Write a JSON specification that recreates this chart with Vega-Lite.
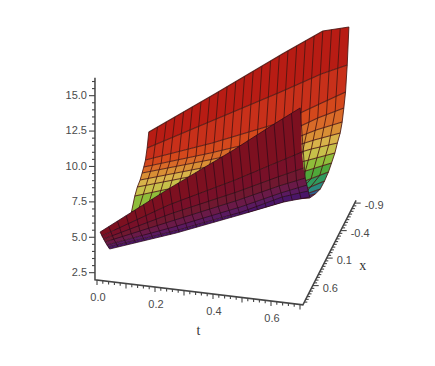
{"$schema":"https://vega.github.io/schema/vega-lite/v6.json","width":435,"height":366,"autosize":{"type":"fit","contains":"padding"},"padding":0,"background":"white","view":{"stroke":null},
"data":{"values":[
{"k":"n","s":"b","r":0,"x":-0.9,"t":0,"z":5.27},{"k":"n","s":"b","r":0,"x":-0.9,"t":0.23,"z":8.56},{"k":"n","s":"b","r":0,"x":-0.9,"t":0.46,"z":11.91},{"k":"n","s":"b","r":0,"x":-0.9,"t":0.6,"z":13.88},{"k":"n","s":"b","r":0,"x":-0.9,"t":0.69,"z":14.39},
{"k":"n","s":"b","r":1,"x":-0.84,"t":0,"z":4.37},{"k":"n","s":"b","r":1,"x":-0.84,"t":0.23,"z":6.92},{"k":"n","s":"b","r":1,"x":-0.84,"t":0.46,"z":9.46},{"k":"n","s":"b","r":1,"x":-0.84,"t":0.6,"z":11.08},{"k":"n","s":"b","r":1,"x":-0.84,"t":0.69,"z":11.94},
{"k":"n","s":"b","r":2,"x":-0.78,"t":0,"z":3.75},{"k":"n","s":"b","r":2,"x":-0.78,"t":0.23,"z":5.52},{"k":"n","s":"b","r":2,"x":-0.78,"t":0.46,"z":7.5},{"k":"n","s":"b","r":2,"x":-0.78,"t":0.6,"z":9.19},{"k":"n","s":"b","r":2,"x":-0.78,"t":0.69,"z":10.26},
{"k":"n","s":"b","r":3,"x":-0.72,"t":0,"z":3.49},{"k":"n","s":"b","r":3,"x":-0.72,"t":0.23,"z":5.05},{"k":"n","s":"b","r":3,"x":-0.72,"t":0.46,"z":6.75},{"k":"n","s":"b","r":3,"x":-0.72,"t":0.6,"z":8.44},{"k":"n","s":"b","r":3,"x":-0.72,"t":0.69,"z":9.37},
{"k":"n","s":"b","r":4,"x":-0.66,"t":0,"z":3.3},{"k":"n","s":"b","r":4,"x":-0.66,"t":0.23,"z":4.79},{"k":"n","s":"b","r":4,"x":-0.66,"t":0.46,"z":6.35},{"k":"n","s":"b","r":4,"x":-0.66,"t":0.6,"z":7.82},{"k":"n","s":"b","r":4,"x":-0.66,"t":0.69,"z":8.61},
{"k":"n","s":"b","r":5,"x":-0.59,"t":0,"z":3.08},{"k":"n","s":"b","r":5,"x":-0.59,"t":0.23,"z":4.57},{"k":"n","s":"b","r":5,"x":-0.59,"t":0.46,"z":6.12},{"k":"n","s":"b","r":5,"x":-0.59,"t":0.6,"z":7.39},{"k":"n","s":"b","r":5,"x":-0.59,"t":0.69,"z":8.11},
{"k":"n","s":"b","r":6,"x":-0.49,"t":0,"z":2.97},{"k":"n","s":"b","r":6,"x":-0.49,"t":0.23,"z":4.46},{"k":"n","s":"b","r":6,"x":-0.49,"t":0.46,"z":5.95},{"k":"n","s":"b","r":6,"x":-0.49,"t":0.6,"z":7.14},{"k":"n","s":"b","r":6,"x":-0.49,"t":0.69,"z":7.79},
{"k":"n","s":"b","r":7,"x":-0.4,"t":0,"z":2.69},{"k":"n","s":"b","r":7,"x":-0.4,"t":0.23,"z":4.25},{"k":"n","s":"b","r":7,"x":-0.4,"t":0.46,"z":5.66},{"k":"n","s":"b","r":7,"x":-0.4,"t":0.6,"z":6.71},{"k":"n","s":"b","r":7,"x":-0.4,"t":0.69,"z":7.43},
{"k":"n","s":"b","r":8,"x":-0.28,"t":0,"z":2.02},{"k":"n","s":"b","r":8,"x":-0.28,"t":0.23,"z":3.79},{"k":"n","s":"b","r":8,"x":-0.28,"t":0.46,"z":5.42},{"k":"n","s":"b","r":8,"x":-0.28,"t":0.6,"z":6.4},{"k":"n","s":"b","r":8,"x":-0.28,"t":0.69,"z":7.19},
{"k":"n","s":"b","r":9,"x":-0.17,"t":0,"z":2.17},{"k":"n","s":"b","r":9,"x":-0.17,"t":0.23,"z":3.51},{"k":"n","s":"b","r":9,"x":-0.17,"t":0.46,"z":5.0},{"k":"n","s":"b","r":9,"x":-0.17,"t":0.6,"z":6.05},{"k":"n","s":"b","r":9,"x":-0.17,"t":0.69,"z":6.98},
{"k":"n","s":"b","r":10,"x":-0.03,"t":0,"z":2.43},{"k":"n","s":"b","r":10,"x":-0.03,"t":0.23,"z":3.56},{"k":"n","s":"b","r":10,"x":-0.03,"t":0.46,"z":4.84},{"k":"n","s":"b","r":10,"x":-0.03,"t":0.6,"z":5.89},{"k":"n","s":"b","r":10,"x":-0.03,"t":0.69,"z":6.89},
{"k":"n","s":"b","r":11,"x":0.12,"t":0,"z":2.73},{"k":"n","s":"b","r":11,"x":0.12,"t":0.23,"z":3.86},{"k":"n","s":"b","r":11,"x":0.12,"t":0.46,"z":5.0},{"k":"n","s":"b","r":11,"x":0.12,"t":0.6,"z":6.05},{"k":"n","s":"b","r":11,"x":0.12,"t":0.69,"z":6.91},
{"k":"n","s":"b","r":12,"x":0.3,"t":0,"z":3.15},{"k":"n","s":"b","r":12,"x":0.3,"t":0.23,"z":4.14},{"k":"n","s":"b","r":12,"x":0.3,"t":0.46,"z":5.41},{"k":"n","s":"b","r":12,"x":0.3,"t":0.6,"z":6.61},{"k":"n","s":"b","r":12,"x":0.3,"t":0.69,"z":7.25},
{"k":"n","s":"b","r":13,"x":0.5,"t":0,"z":3.08},{"k":"n","s":"b","r":13,"x":0.5,"t":0.23,"z":4.35},{"k":"n","s":"b","r":13,"x":0.5,"t":0.46,"z":6.33},{"k":"n","s":"b","r":13,"x":0.5,"t":0.6,"z":7.38},{"k":"n","s":"b","r":13,"x":0.5,"t":0.69,"z":7.75},
{"k":"n","s":"f","r":20,"x":0.84,"t":0,"z":4.96},{"k":"n","s":"f","r":20,"x":0.84,"t":0.23,"z":8.5},{"k":"n","s":"f","r":20,"x":0.84,"t":0.46,"z":11.89},{"k":"n","s":"f","r":20,"x":0.84,"t":0.6,"z":14.07},{"k":"n","s":"f","r":20,"x":0.84,"t":0.69,"z":15.43},
{"k":"n","s":"f","r":21,"x":0.78,"t":0,"z":4.45},{"k":"n","s":"f","r":21,"x":0.78,"t":0.23,"z":7.2},{"k":"n","s":"f","r":21,"x":0.78,"t":0.46,"z":9.54},{"k":"n","s":"f","r":21,"x":0.78,"t":0.6,"z":11.09},{"k":"n","s":"f","r":21,"x":0.78,"t":0.69,"z":12.08},
{"k":"n","s":"f","r":22,"x":0.72,"t":0,"z":4.0},{"k":"n","s":"f","r":22,"x":0.72,"t":0.23,"z":6.34},{"k":"n","s":"f","r":22,"x":0.72,"t":0.46,"z":8.46},{"k":"n","s":"f","r":22,"x":0.72,"t":0.6,"z":9.86},{"k":"n","s":"f","r":22,"x":0.72,"t":0.69,"z":10.72},
{"k":"n","s":"f","r":23,"x":0.66,"t":0,"z":3.56},{"k":"n","s":"f","r":23,"x":0.66,"t":0.23,"z":5.61},{"k":"n","s":"f","r":23,"x":0.66,"t":0.46,"z":7.66},{"k":"n","s":"f","r":23,"x":0.66,"t":0.6,"z":9.0},{"k":"n","s":"f","r":23,"x":0.66,"t":0.69,"z":9.78},
{"k":"n","s":"f","r":24,"x":0.6,"t":0,"z":3.11},{"k":"n","s":"f","r":24,"x":0.6,"t":0.23,"z":4.95},{"k":"n","s":"f","r":24,"x":0.6,"t":0.46,"z":6.93},{"k":"n","s":"f","r":24,"x":0.6,"t":0.6,"z":8.27},{"k":"n","s":"f","r":24,"x":0.6,"t":0.69,"z":9.05},
{"k":"n","s":"f","r":25,"x":0.55,"t":0,"z":2.78},{"k":"n","s":"f","r":25,"x":0.55,"t":0.23,"z":4.48},{"k":"n","s":"f","r":25,"x":0.55,"t":0.46,"z":6.39},{"k":"n","s":"f","r":25,"x":0.55,"t":0.6,"z":7.79},{"k":"n","s":"f","r":25,"x":0.55,"t":0.69,"z":8.44},
{"k":"n","s":"f","r":26,"x":0.5,"t":0,"z":2.44},{"k":"n","s":"f","r":26,"x":0.5,"t":0.23,"z":4.14},{"k":"n","s":"f","r":26,"x":0.5,"t":0.46,"z":6.05},{"k":"n","s":"f","r":26,"x":0.5,"t":0.6,"z":7.24},{"k":"n","s":"f","r":26,"x":0.5,"t":0.69,"z":7.82},

{"k":"c","s":"b","t":0,"x":-0.9,"z":5.27},{"k":"c","s":"b","t":0,"x":-0.84,"z":4.37},{"k":"c","s":"b","t":0,"x":-0.78,"z":3.75},{"k":"c","s":"b","t":0,"x":-0.72,"z":3.49},{"k":"c","s":"b","t":0,"x":-0.66,"z":3.3},{"k":"c","s":"b","t":0,"x":-0.59,"z":3.08},{"k":"c","s":"b","t":0,"x":-0.49,"z":2.97},{"k":"c","s":"b","t":0,"x":-0.4,"z":2.69},{"k":"c","s":"b","t":0,"x":-0.28,"z":2.02},
{"k":"c","s":"b","t":0.03,"x":-0.9,"z":5.7},{"k":"c","s":"b","t":0.03,"x":-0.72,"z":3.69},{"k":"c","s":"b","t":0.03,"x":-0.49,"z":3.16},{"k":"c","s":"b","t":0.03,"x":-0.17,"z":2.34},
{"k":"c","s":"b","t":0.06,"x":-0.9,"z":6.13},{"k":"c","s":"b","t":0.06,"x":-0.72,"z":3.9},{"k":"c","s":"b","t":0.06,"x":-0.49,"z":3.36},{"k":"c","s":"b","t":0.06,"x":-0.17,"z":2.52},
{"k":"c","s":"b","t":0.09,"x":-0.9,"z":6.56},{"k":"c","s":"b","t":0.09,"x":-0.72,"z":4.1},{"k":"c","s":"b","t":0.09,"x":-0.49,"z":3.55},{"k":"c","s":"b","t":0.09,"x":-0.17,"z":2.69},
{"k":"c","s":"b","t":0.12,"x":-0.9,"z":6.99},{"k":"c","s":"b","t":0.12,"x":-0.72,"z":4.3},{"k":"c","s":"b","t":0.12,"x":-0.49,"z":3.75},{"k":"c","s":"b","t":0.12,"x":-0.17,"z":2.87},
{"k":"c","s":"b","t":0.15,"x":-0.9,"z":7.42},{"k":"c","s":"b","t":0.15,"x":-0.72,"z":4.51},{"k":"c","s":"b","t":0.15,"x":-0.49,"z":3.94},{"k":"c","s":"b","t":0.15,"x":-0.17,"z":3.04},
{"k":"c","s":"b","t":0.18,"x":-0.9,"z":7.84},{"k":"c","s":"b","t":0.18,"x":-0.72,"z":4.71},{"k":"c","s":"b","t":0.18,"x":-0.49,"z":4.14},{"k":"c","s":"b","t":0.18,"x":-0.17,"z":3.22},
{"k":"c","s":"b","t":0.21,"x":-0.9,"z":8.27},{"k":"c","s":"b","t":0.21,"x":-0.72,"z":4.91},{"k":"c","s":"b","t":0.21,"x":-0.49,"z":4.33},{"k":"c","s":"b","t":0.21,"x":-0.17,"z":3.39},
{"k":"c","s":"b","t":0.24,"x":-0.9,"z":8.7},{"k":"c","s":"b","t":0.24,"x":-0.72,"z":5.12},{"k":"c","s":"b","t":0.24,"x":-0.49,"z":4.52},{"k":"c","s":"b","t":0.24,"x":-0.17,"z":3.57},
{"k":"c","s":"b","t":0.27,"x":-0.9,"z":9.14},{"k":"c","s":"b","t":0.27,"x":-0.72,"z":5.34},{"k":"c","s":"b","t":0.27,"x":-0.49,"z":4.71},{"k":"c","s":"b","t":0.27,"x":-0.17,"z":3.77},
{"k":"c","s":"b","t":0.3,"x":-0.9,"z":9.57},{"k":"c","s":"b","t":0.3,"x":-0.72,"z":5.57},{"k":"c","s":"b","t":0.3,"x":-0.49,"z":4.91},{"k":"c","s":"b","t":0.3,"x":-0.17,"z":3.96},
{"k":"c","s":"b","t":0.33,"x":-0.9,"z":10.01},{"k":"c","s":"b","t":0.33,"x":-0.72,"z":5.79},{"k":"c","s":"b","t":0.33,"x":-0.49,"z":5.1},{"k":"c","s":"b","t":0.33,"x":-0.17,"z":4.16},
{"k":"c","s":"b","t":0.36,"x":-0.9,"z":10.45},{"k":"c","s":"b","t":0.36,"x":-0.72,"z":6.01},{"k":"c","s":"b","t":0.36,"x":-0.49,"z":5.3},{"k":"c","s":"b","t":0.36,"x":-0.17,"z":4.35},
{"k":"c","s":"b","t":0.39,"x":-0.9,"z":10.88},{"k":"c","s":"b","t":0.39,"x":-0.72,"z":6.23},{"k":"c","s":"b","t":0.39,"x":-0.49,"z":5.49},{"k":"c","s":"b","t":0.39,"x":-0.17,"z":4.55},
{"k":"c","s":"b","t":0.42,"x":-0.9,"z":11.32},{"k":"c","s":"b","t":0.42,"x":-0.72,"z":6.45},{"k":"c","s":"b","t":0.42,"x":-0.49,"z":5.68},{"k":"c","s":"b","t":0.42,"x":-0.17,"z":4.74},
{"k":"c","s":"b","t":0.45,"x":-0.9,"z":11.76},{"k":"c","s":"b","t":0.45,"x":-0.72,"z":6.68},{"k":"c","s":"b","t":0.45,"x":-0.49,"z":5.88},{"k":"c","s":"b","t":0.45,"x":-0.17,"z":4.94},
{"k":"c","s":"b","t":0.48,"x":-0.9,"z":12.19},{"k":"c","s":"b","t":0.48,"x":-0.72,"z":6.99},{"k":"c","s":"b","t":0.48,"x":-0.49,"z":6.12},{"k":"c","s":"b","t":0.48,"x":-0.17,"z":5.15},
{"k":"c","s":"b","t":0.51,"x":-0.9,"z":12.61},{"k":"c","s":"b","t":0.51,"x":-0.72,"z":7.36},{"k":"c","s":"b","t":0.51,"x":-0.49,"z":6.37},{"k":"c","s":"b","t":0.51,"x":-0.17,"z":5.38},
{"k":"c","s":"b","t":0.54,"x":-0.9,"z":13.04},{"k":"c","s":"b","t":0.54,"x":-0.72,"z":7.72},{"k":"c","s":"b","t":0.54,"x":-0.49,"z":6.63},{"k":"c","s":"b","t":0.54,"x":-0.17,"z":5.6},
{"k":"c","s":"b","t":0.57,"x":-0.9,"z":13.46},{"k":"c","s":"b","t":0.57,"x":-0.72,"z":8.08},{"k":"c","s":"b","t":0.57,"x":-0.49,"z":6.88},{"k":"c","s":"b","t":0.57,"x":-0.17,"z":5.83},{"k":"c","s":"b","t":0.57,"x":0.5,"z":7.15},
{"k":"c","s":"b","t":0.6,"x":-0.9,"z":13.88},{"k":"c","s":"b","t":0.6,"x":-0.72,"z":8.44},{"k":"c","s":"b","t":0.6,"x":-0.49,"z":7.14},{"k":"c","s":"b","t":0.6,"x":-0.17,"z":6.05},{"k":"c","s":"b","t":0.6,"x":0.5,"z":7.38},
{"k":"c","s":"b","t":0.63,"x":-0.9,"z":14.05},{"k":"c","s":"b","t":0.63,"x":-0.72,"z":8.75},{"k":"c","s":"b","t":0.63,"x":-0.49,"z":7.36},{"k":"c","s":"b","t":0.63,"x":-0.17,"z":6.36},{"k":"c","s":"b","t":0.63,"x":0.5,"z":7.5},
{"k":"c","s":"b","t":0.66,"x":-0.9,"z":14.22},{"k":"c","s":"b","t":0.66,"x":-0.72,"z":9.06},{"k":"c","s":"b","t":0.66,"x":-0.49,"z":7.57},{"k":"c","s":"b","t":0.66,"x":-0.17,"z":6.67},{"k":"c","s":"b","t":0.66,"x":0.5,"z":7.62},
{"k":"c","s":"b","t":0.69,"x":-0.9,"z":14.39},{"k":"c","s":"b","t":0.69,"x":-0.84,"z":11.94},{"k":"c","s":"b","t":0.69,"x":-0.78,"z":10.26},{"k":"c","s":"b","t":0.69,"x":-0.72,"z":9.37},{"k":"c","s":"b","t":0.69,"x":-0.66,"z":8.61},{"k":"c","s":"b","t":0.69,"x":-0.59,"z":8.11},{"k":"c","s":"b","t":0.69,"x":-0.49,"z":7.79},{"k":"c","s":"b","t":0.69,"x":-0.4,"z":7.43},{"k":"c","s":"b","t":0.69,"x":-0.28,"z":7.19},{"k":"c","s":"b","t":0.69,"x":-0.17,"z":6.98},{"k":"c","s":"b","t":0.69,"x":-0.03,"z":6.89},{"k":"c","s":"b","t":0.69,"x":0.12,"z":6.91},{"k":"c","s":"b","t":0.69,"x":0.3,"z":7.25},{"k":"c","s":"b","t":0.69,"x":0.5,"z":7.75},

{"k":"c","s":"f","t":0,"x":0.84,"z":4.96},{"k":"c","s":"f","t":0,"x":0.66,"z":3.56},{"k":"c","s":"f","t":0,"x":0.5,"z":2.44},
{"k":"c","s":"f","t":0.03,"x":0.84,"z":5.42},{"k":"c","s":"f","t":0.03,"x":0.66,"z":3.83},{"k":"c","s":"f","t":0.03,"x":0.5,"z":2.66},
{"k":"c","s":"f","t":0.06,"x":0.84,"z":5.88},{"k":"c","s":"f","t":0.06,"x":0.66,"z":4.09},{"k":"c","s":"f","t":0.06,"x":0.5,"z":2.88},
{"k":"c","s":"f","t":0.09,"x":0.84,"z":6.35},{"k":"c","s":"f","t":0.09,"x":0.66,"z":4.36},{"k":"c","s":"f","t":0.09,"x":0.5,"z":3.11},
{"k":"c","s":"f","t":0.12,"x":0.84,"z":6.81},{"k":"c","s":"f","t":0.12,"x":0.66,"z":4.63},{"k":"c","s":"f","t":0.12,"x":0.5,"z":3.33},
{"k":"c","s":"f","t":0.15,"x":0.84,"z":7.27},{"k":"c","s":"f","t":0.15,"x":0.66,"z":4.9},{"k":"c","s":"f","t":0.15,"x":0.5,"z":3.55},
{"k":"c","s":"f","t":0.18,"x":0.84,"z":7.73},{"k":"c","s":"f","t":0.18,"x":0.66,"z":5.16},{"k":"c","s":"f","t":0.18,"x":0.5,"z":3.77},
{"k":"c","s":"f","t":0.21,"x":0.84,"z":8.2},{"k":"c","s":"f","t":0.21,"x":0.66,"z":5.43},{"k":"c","s":"f","t":0.21,"x":0.5,"z":3.99},
{"k":"c","s":"f","t":0.24,"x":0.84,"z":8.64},{"k":"c","s":"f","t":0.24,"x":0.66,"z":5.7},{"k":"c","s":"f","t":0.24,"x":0.5,"z":4.22},
{"k":"c","s":"f","t":0.27,"x":0.84,"z":9.09},{"k":"c","s":"f","t":0.27,"x":0.66,"z":5.97},{"k":"c","s":"f","t":0.27,"x":0.5,"z":4.47},
{"k":"c","s":"f","t":0.3,"x":0.84,"z":9.53},{"k":"c","s":"f","t":0.3,"x":0.66,"z":6.23},{"k":"c","s":"f","t":0.3,"x":0.5,"z":4.72},
{"k":"c","s":"f","t":0.33,"x":0.84,"z":9.97},{"k":"c","s":"f","t":0.33,"x":0.66,"z":6.5},{"k":"c","s":"f","t":0.33,"x":0.5,"z":4.97},
{"k":"c","s":"f","t":0.36,"x":0.84,"z":10.42},{"k":"c","s":"f","t":0.36,"x":0.66,"z":6.77},{"k":"c","s":"f","t":0.36,"x":0.5,"z":5.22},
{"k":"c","s":"f","t":0.39,"x":0.84,"z":10.86},{"k":"c","s":"f","t":0.39,"x":0.66,"z":7.03},{"k":"c","s":"f","t":0.39,"x":0.5,"z":5.47},
{"k":"c","s":"f","t":0.42,"x":0.84,"z":11.3},{"k":"c","s":"f","t":0.42,"x":0.66,"z":7.3},{"k":"c","s":"f","t":0.42,"x":0.5,"z":5.72},
{"k":"c","s":"f","t":0.45,"x":0.84,"z":11.74},{"k":"c","s":"f","t":0.45,"x":0.66,"z":7.57},{"k":"c","s":"f","t":0.45,"x":0.5,"z":5.97},
{"k":"c","s":"f","t":0.48,"x":0.84,"z":12.2},{"k":"c","s":"f","t":0.48,"x":0.66,"z":7.85},{"k":"c","s":"f","t":0.48,"x":0.5,"z":6.22},
{"k":"c","s":"f","t":0.51,"x":0.84,"z":12.67},{"k":"c","s":"f","t":0.51,"x":0.66,"z":8.14},{"k":"c","s":"f","t":0.51,"x":0.5,"z":6.48},
{"k":"c","s":"f","t":0.54,"x":0.84,"z":13.14},{"k":"c","s":"f","t":0.54,"x":0.66,"z":8.43},{"k":"c","s":"f","t":0.54,"x":0.5,"z":6.73},
{"k":"c","s":"f","t":0.57,"x":0.84,"z":13.6},{"k":"c","s":"f","t":0.57,"x":0.66,"z":8.71},{"k":"c","s":"f","t":0.57,"x":0.5,"z":6.99},
{"k":"c","s":"f","t":0.6,"x":0.84,"z":14.07},{"k":"c","s":"f","t":0.6,"x":0.66,"z":9.0},{"k":"c","s":"f","t":0.6,"x":0.5,"z":7.24},
{"k":"c","s":"f","t":0.63,"x":0.84,"z":14.52},{"k":"c","s":"f","t":0.63,"x":0.66,"z":9.26},{"k":"c","s":"f","t":0.63,"x":0.5,"z":7.43},
{"k":"c","s":"f","t":0.66,"x":0.84,"z":14.98},{"k":"c","s":"f","t":0.66,"x":0.66,"z":9.52},{"k":"c","s":"f","t":0.66,"x":0.5,"z":7.63},
{"k":"c","s":"f","t":0.69,"x":0.84,"z":15.43},{"k":"c","s":"f","t":0.69,"x":0.66,"z":9.78},{"k":"c","s":"f","t":0.69,"x":0.5,"z":7.82},

{"k":"a","o":0,"t":-0.007,"x":0.95,"z":16.27},{"k":"a","o":1,"t":-0.007,"x":0.95,"z":2},{"k":"a","o":2,"t":0.71,"x":0.95,"z":2},{"k":"a","o":3,"t":0.71,"x":-0.95,"z":2},

{"k":"tk","a":"t","m":1,"t":0,"x":0.95,"z":2},{"k":"tk","a":"t","m":0,"t":0.02,"x":0.95,"z":2},{"k":"tk","a":"t","m":0,"t":0.04,"x":0.95,"z":2},{"k":"tk","a":"t","m":0,"t":0.06,"x":0.95,"z":2},{"k":"tk","a":"t","m":0,"t":0.08,"x":0.95,"z":2},{"k":"tk","a":"t","m":1,"t":0.1,"x":0.95,"z":2},{"k":"tk","a":"t","m":0,"t":0.12,"x":0.95,"z":2},{"k":"tk","a":"t","m":0,"t":0.14,"x":0.95,"z":2},{"k":"tk","a":"t","m":0,"t":0.16,"x":0.95,"z":2},{"k":"tk","a":"t","m":0,"t":0.18,"x":0.95,"z":2},{"k":"tk","a":"t","m":1,"t":0.2,"x":0.95,"z":2},{"k":"tk","a":"t","m":0,"t":0.22,"x":0.95,"z":2},{"k":"tk","a":"t","m":0,"t":0.24,"x":0.95,"z":2},{"k":"tk","a":"t","m":0,"t":0.26,"x":0.95,"z":2},{"k":"tk","a":"t","m":0,"t":0.28,"x":0.95,"z":2},{"k":"tk","a":"t","m":1,"t":0.3,"x":0.95,"z":2},{"k":"tk","a":"t","m":0,"t":0.32,"x":0.95,"z":2},{"k":"tk","a":"t","m":0,"t":0.34,"x":0.95,"z":2},{"k":"tk","a":"t","m":0,"t":0.36,"x":0.95,"z":2},{"k":"tk","a":"t","m":0,"t":0.38,"x":0.95,"z":2},{"k":"tk","a":"t","m":1,"t":0.4,"x":0.95,"z":2},{"k":"tk","a":"t","m":0,"t":0.42,"x":0.95,"z":2},{"k":"tk","a":"t","m":0,"t":0.44,"x":0.95,"z":2},{"k":"tk","a":"t","m":0,"t":0.46,"x":0.95,"z":2},{"k":"tk","a":"t","m":0,"t":0.48,"x":0.95,"z":2},{"k":"tk","a":"t","m":1,"t":0.5,"x":0.95,"z":2},{"k":"tk","a":"t","m":0,"t":0.52,"x":0.95,"z":2},{"k":"tk","a":"t","m":0,"t":0.54,"x":0.95,"z":2},{"k":"tk","a":"t","m":0,"t":0.56,"x":0.95,"z":2},{"k":"tk","a":"t","m":0,"t":0.58,"x":0.95,"z":2},{"k":"tk","a":"t","m":1,"t":0.6,"x":0.95,"z":2},{"k":"tk","a":"t","m":0,"t":0.62,"x":0.95,"z":2},{"k":"tk","a":"t","m":0,"t":0.64,"x":0.95,"z":2},{"k":"tk","a":"t","m":0,"t":0.66,"x":0.95,"z":2},{"k":"tk","a":"t","m":0,"t":0.68,"x":0.95,"z":2},{"k":"tk","a":"t","m":1,"t":0.7,"x":0.95,"z":2},

{"k":"tk","a":"x","m":0,"t":0.71,"x":0.9,"z":2},{"k":"tk","a":"x","m":0,"t":0.71,"x":0.85,"z":2},{"k":"tk","a":"x","m":0,"t":0.71,"x":0.8,"z":2},{"k":"tk","a":"x","m":0,"t":0.71,"x":0.75,"z":2},{"k":"tk","a":"x","m":0,"t":0.71,"x":0.7,"z":2},{"k":"tk","a":"x","m":0,"t":0.71,"x":0.65,"z":2},{"k":"tk","a":"x","m":1,"t":0.71,"x":0.6,"z":2},{"k":"tk","a":"x","m":0,"t":0.71,"x":0.55,"z":2},{"k":"tk","a":"x","m":0,"t":0.71,"x":0.5,"z":2},{"k":"tk","a":"x","m":0,"t":0.71,"x":0.45,"z":2},{"k":"tk","a":"x","m":0,"t":0.71,"x":0.4,"z":2},{"k":"tk","a":"x","m":0,"t":0.71,"x":0.35,"z":2},{"k":"tk","a":"x","m":0,"t":0.71,"x":0.3,"z":2},{"k":"tk","a":"x","m":0,"t":0.71,"x":0.25,"z":2},{"k":"tk","a":"x","m":0,"t":0.71,"x":0.2,"z":2},{"k":"tk","a":"x","m":0,"t":0.71,"x":0.15,"z":2},{"k":"tk","a":"x","m":1,"t":0.71,"x":0.1,"z":2},{"k":"tk","a":"x","m":0,"t":0.71,"x":0.05,"z":2},{"k":"tk","a":"x","m":0,"t":0.71,"x":0,"z":2},{"k":"tk","a":"x","m":0,"t":0.71,"x":-0.05,"z":2},{"k":"tk","a":"x","m":0,"t":0.71,"x":-0.1,"z":2},{"k":"tk","a":"x","m":0,"t":0.71,"x":-0.15,"z":2},{"k":"tk","a":"x","m":0,"t":0.71,"x":-0.2,"z":2},{"k":"tk","a":"x","m":0,"t":0.71,"x":-0.25,"z":2},{"k":"tk","a":"x","m":0,"t":0.71,"x":-0.3,"z":2},{"k":"tk","a":"x","m":0,"t":0.71,"x":-0.35,"z":2},{"k":"tk","a":"x","m":1,"t":0.71,"x":-0.4,"z":2},{"k":"tk","a":"x","m":0,"t":0.71,"x":-0.45,"z":2},{"k":"tk","a":"x","m":0,"t":0.71,"x":-0.5,"z":2},{"k":"tk","a":"x","m":0,"t":0.71,"x":-0.55,"z":2},{"k":"tk","a":"x","m":0,"t":0.71,"x":-0.6,"z":2},{"k":"tk","a":"x","m":0,"t":0.71,"x":-0.65,"z":2},{"k":"tk","a":"x","m":0,"t":0.71,"x":-0.7,"z":2},{"k":"tk","a":"x","m":0,"t":0.71,"x":-0.75,"z":2},{"k":"tk","a":"x","m":0,"t":0.71,"x":-0.8,"z":2},{"k":"tk","a":"x","m":0,"t":0.71,"x":-0.85,"z":2},{"k":"tk","a":"x","m":1,"t":0.71,"x":-0.9,"z":2},

{"k":"tk","a":"z","m":1,"t":-0.007,"x":0.95,"z":2.5},{"k":"tk","a":"z","m":0,"t":-0.007,"x":0.95,"z":3},{"k":"tk","a":"z","m":0,"t":-0.007,"x":0.95,"z":3.5},{"k":"tk","a":"z","m":0,"t":-0.007,"x":0.95,"z":4},{"k":"tk","a":"z","m":0,"t":-0.007,"x":0.95,"z":4.5},{"k":"tk","a":"z","m":1,"t":-0.007,"x":0.95,"z":5},{"k":"tk","a":"z","m":0,"t":-0.007,"x":0.95,"z":5.5},{"k":"tk","a":"z","m":0,"t":-0.007,"x":0.95,"z":6},{"k":"tk","a":"z","m":0,"t":-0.007,"x":0.95,"z":6.5},{"k":"tk","a":"z","m":0,"t":-0.007,"x":0.95,"z":7},{"k":"tk","a":"z","m":1,"t":-0.007,"x":0.95,"z":7.5},{"k":"tk","a":"z","m":0,"t":-0.007,"x":0.95,"z":8},{"k":"tk","a":"z","m":0,"t":-0.007,"x":0.95,"z":8.5},{"k":"tk","a":"z","m":0,"t":-0.007,"x":0.95,"z":9},{"k":"tk","a":"z","m":0,"t":-0.007,"x":0.95,"z":9.5},{"k":"tk","a":"z","m":1,"t":-0.007,"x":0.95,"z":10},{"k":"tk","a":"z","m":0,"t":-0.007,"x":0.95,"z":10.5},{"k":"tk","a":"z","m":0,"t":-0.007,"x":0.95,"z":11},{"k":"tk","a":"z","m":0,"t":-0.007,"x":0.95,"z":11.5},{"k":"tk","a":"z","m":0,"t":-0.007,"x":0.95,"z":12},{"k":"tk","a":"z","m":1,"t":-0.007,"x":0.95,"z":12.5},{"k":"tk","a":"z","m":0,"t":-0.007,"x":0.95,"z":13},{"k":"tk","a":"z","m":0,"t":-0.007,"x":0.95,"z":13.5},{"k":"tk","a":"z","m":0,"t":-0.007,"x":0.95,"z":14},{"k":"tk","a":"z","m":0,"t":-0.007,"x":0.95,"z":14.5},{"k":"tk","a":"z","m":1,"t":-0.007,"x":0.95,"z":15},{"k":"tk","a":"z","m":0,"t":-0.007,"x":0.95,"z":15.5},{"k":"tk","a":"z","m":0,"t":-0.007,"x":0.95,"z":16},

{"k":"l","a":"t","lab":"0.0","t":0,"x":0.95,"z":2},{"k":"l","a":"t","lab":"0.2","t":0.2,"x":0.95,"z":2},{"k":"l","a":"t","lab":"0.4","t":0.4,"x":0.95,"z":2},{"k":"l","a":"t","lab":"0.6","t":0.6,"x":0.95,"z":2},
{"k":"l","a":"x","lab":"0.6","t":0.71,"x":0.6,"z":2},{"k":"l","a":"x","lab":"0.1","t":0.71,"x":0.1,"z":2},{"k":"l","a":"x","lab":"-0.4","t":0.71,"x":-0.4,"z":2},{"k":"l","a":"x","lab":"-0.9","t":0.71,"x":-0.9,"z":2},
{"k":"l","a":"z","lab":"2.5","t":0,"x":0.95,"z":2.5},{"k":"l","a":"z","lab":"5.0","t":0,"x":0.95,"z":5},{"k":"l","a":"z","lab":"7.5","t":0,"x":0.95,"z":7.5},{"k":"l","a":"z","lab":"10.0","t":0,"x":0.95,"z":10},{"k":"l","a":"z","lab":"12.5","t":0,"x":0.95,"z":12.5},{"k":"l","a":"z","lab":"15.0","t":0,"x":0.95,"z":15},
{"k":"l","a":"tt","lab":"t","t":0.35,"x":0.95,"z":2},{"k":"l","a":"xt","lab":"x","t":0.71,"x":0.1,"z":2}
]},
"transform":[
{"calculate":"97+290*datum.t+28*(0.95-datum.x)","as":"sx"},
{"calculate":"280+35*datum.t-55*(0.95-datum.x)-14.16*(datum.z-2)","as":"sy"}
],
"encoding":{
"x":{"field":"sx","type":"quantitative","scale":{"domain":[0,435],"nice":false,"zero":false},"axis":null},
"y":{"field":"sy","type":"quantitative","scale":{"domain":[366,0],"nice":false,"zero":false},"axis":null}
},
"layer":[
{"transform":[{"filter":"datum.k=='n'&&datum.s=='b'"},{"calculate":"[datum.r,datum.r-1]","as":"bs"},{"flatten":["bs"],"as":["b"]},{"filter":"datum.b>=0&&datum.b<13"},{"calculate":"datum.b==datum.r?datum.t:2-datum.t","as":"o"}],
"mark":{"type":"line","strokeWidth":0},
"encoding":{"detail":{"field":"b"},"order":{"field":"o","type":"quantitative"},
"fill":{"field":"b","type":"nominal","legend":null,"scale":{"domain":[0,1,2,3,4,5,6,7,8,9,10,11,12,20,21,22,23,24,25],"range":["#b81c14","#c8301a","#d4481c","#d96a28","#d98f35","#d8b34a","#c7c04a","#8fbd3a","#4fa93a","#2f9a5e","#2a8a80","#2d5f90","#3d2a78","#7d1020","#781028","#701830","#6a1a48","#5a1a60","#4a1668"]}}}},
{"transform":[{"filter":"datum.k=='n'&&datum.s=='b'"}],"mark":{"type":"line","stroke":"#4a1510","strokeWidth":1.1,"opacity":0.85},"encoding":{"detail":{"field":"r"},"order":{"field":"t","type":"quantitative"}}},
{"transform":[{"filter":"datum.k=='c'&&datum.s=='b'"}],"mark":{"type":"line","stroke":"#4a1510","strokeWidth":1,"opacity":0.85},"encoding":{"detail":{"field":"t"},"order":{"field":"x","type":"quantitative"}}},
{"transform":[{"filter":"datum.k=='n'&&datum.s=='f'"},{"calculate":"[datum.r,datum.r-1]","as":"bs"},{"flatten":["bs"],"as":["b"]},{"filter":"datum.b>=20&&datum.b<26"},{"calculate":"datum.b==datum.r?datum.t:2-datum.t","as":"o"}],
"mark":{"type":"line","strokeWidth":0},
"encoding":{"detail":{"field":"b"},"order":{"field":"o","type":"quantitative"},
"fill":{"field":"b","type":"nominal","legend":null,"scale":{"domain":[0,1,2,3,4,5,6,7,8,9,10,11,12,20,21,22,23,24,25],"range":["#b81c14","#c8301a","#d4481c","#d96a28","#d98f35","#d8b34a","#c7c04a","#8fbd3a","#4fa93a","#2f9a5e","#2a8a80","#2d5f90","#3d2a78","#7d1020","#781028","#701830","#6a1a48","#5a1a60","#4a1668"]}}}},
{"transform":[{"filter":"datum.k=='n'&&datum.s=='f'"}],"mark":{"type":"line","stroke":"#2e0a18","strokeWidth":1,"opacity":0.75},"encoding":{"detail":{"field":"r"},"order":{"field":"t","type":"quantitative"}}},
{"transform":[{"filter":"datum.k=='c'&&datum.s=='f'"}],"mark":{"type":"line","stroke":"#2e0a18","strokeWidth":1,"opacity":0.75},"encoding":{"detail":{"field":"t"},"order":{"field":"x","type":"quantitative"}}},
{"transform":[{"filter":"datum.k=='a'"}],"mark":{"type":"line","stroke":"#444444","strokeWidth":1.5},"encoding":{"order":{"field":"o","type":"quantitative"}}},
{"transform":[{"filter":"datum.k=='tk'"},{"calculate":"datum.sx+(datum.a=='x'?(datum.m?6:3):datum.a=='z'?(datum.m?-6:-3):0)","as":"ex"},{"calculate":"datum.sy+(datum.a=='t'?(datum.m?5:3):0)","as":"ey"}],"mark":{"type":"rule","stroke":"#444444","strokeWidth":1.1},"encoding":{"x2":{"field":"ex"},"y2":{"field":"ey"}}},
{"transform":[{"filter":"datum.k=='l'&&datum.a=='t'"},{"calculate":"datum.sx+1","as":"lx"},{"calculate":"datum.sy+18","as":"ly"}],"mark":{"type":"text","font":"Liberation Sans","fontSize":11,"fill":"#4a4a4a","align":"center","baseline":"middle"},"encoding":{"x":{"field":"lx","type":"quantitative","axis":null},"y":{"field":"ly","type":"quantitative","axis":null},"text":{"field":"lab"}}},
{"transform":[{"filter":"datum.k=='l'&&datum.a=='x'"},{"calculate":"datum.sx+10","as":"lx"},{"calculate":"datum.sy+3","as":"ly"}],"mark":{"type":"text","font":"Liberation Sans","fontSize":11,"fill":"#4a4a4a","align":"left","baseline":"middle"},"encoding":{"x":{"field":"lx","type":"quantitative","axis":null},"y":{"field":"ly","type":"quantitative","axis":null},"text":{"field":"lab"}}},
{"transform":[{"filter":"datum.k=='l'&&datum.a=='z'"},{"calculate":"datum.sx-10","as":"lx"}],"mark":{"type":"text","font":"Liberation Sans","fontSize":11,"fill":"#4a4a4a","align":"right","baseline":"middle"},"encoding":{"x":{"field":"lx","type":"quantitative","axis":null},"text":{"field":"lab"}}},
{"transform":[{"filter":"datum.k=='l'&&(datum.a=='tt'||datum.a=='xt')"},{"calculate":"datum.sx+(datum.a=='xt'?36:0)","as":"lx"},{"calculate":"datum.sy+(datum.a=='xt'?8:39)","as":"ly"}],"mark":{"type":"text","font":"Liberation Serif","fontSize":14,"fill":"#333333","align":"center","baseline":"middle"},"encoding":{"x":{"field":"lx","type":"quantitative","axis":null},"y":{"field":"ly","type":"quantitative","axis":null},"text":{"field":"lab"}}}
]}
